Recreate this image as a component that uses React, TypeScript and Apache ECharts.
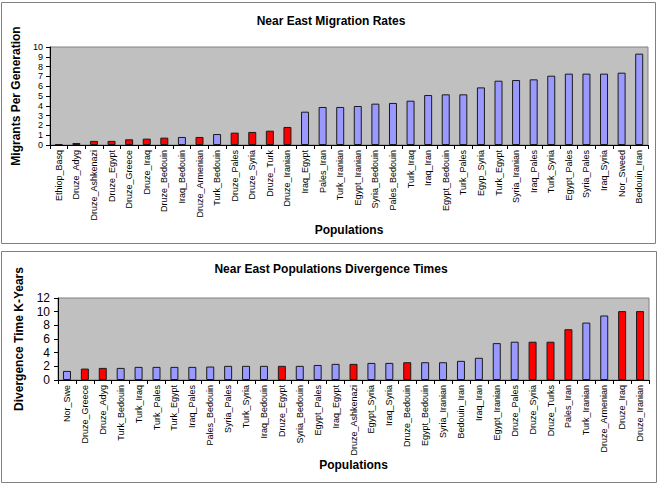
import React, { useEffect, useRef } from "react";
import * as echarts from "echarts";

const migrationCategories = [
  "Ethiop_Basq", "Druze_Adyg", "Druze_Ashkenazi", "Druze_Egypt", "Druze_Greece", "Druze_Iraq",
  "Druze_Bedouin", "Iraq_Bedouin", "Druze_Armenian", "Turk_Bedouin", "Druze_Pales", "Druze_Syria",
  "Druze_Turk", "Druze_Iranian", "Iraq_Egypt", "Pales_Iran", "Turk_Iranian", "Egypt_Iranian",
  "Syria_Bedouin", "Pales_Bedouin", "Turk_Iraq", "Iraq_Iran", "Egypt_Bedouin", "Turk_Pales",
  "Egyp_Syria", "Turk_Egypt", "Syria_Iranian", "Iraq_Pales", "Turk_Syria", "Egypt_Pales",
  "Syria_Pales", "Iraq_Syria", "Nor_Sweed", "Bedouin_Iran",
];
const migrationValues = [
  0.1, 0.2, 0.42, 0.42, 0.58, 0.65, 0.75, 0.82, 0.82, 1.12, 1.26, 1.33, 1.46, 1.84,
  3.4, 3.88, 3.88, 3.98, 4.22, 4.29, 4.52, 5.1, 5.17, 5.17, 5.88, 6.56, 6.63, 6.7,
  7.07, 7.28, 7.28, 7.28, 7.38, 9.32,
];
const migrationHighlighted = [
  "Ethiop_Basq", "Druze_Adyg", "Druze_Ashkenazi", "Druze_Egypt", "Druze_Greece", "Druze_Iraq",
  "Druze_Bedouin", "Druze_Armenian", "Druze_Pales", "Druze_Syria", "Druze_Turk", "Druze_Iranian",
];

const divergenceCategories = [
  "Nor_Swe", "Druze_Greece", "Druze_Adyg", "Turk_Bedouin", "Turk_Iraq", "Turk_Pales", "Turk_Egypt",
  "Iraq_Pales", "Pales_Bedouin", "Syria_Pales", "Turk_Syria", "Iraq_Bedouin", "Druze_Egypt",
  "Syria_Bedouin", "Egypt_Pales", "Iraq_Egypt", "Druze_Ashkenazi", "Egypt_Syria", "Iraq_Syria",
  "Druze_Bedouin", "Egypt_Bedouin", "Syria_Iranian", "Bedouin_Iran", "Iraq_Iran", "Egypt_Iranian",
  "Druze_Pales", "Druze_Syria", "Druze_Turks", "Pales_Iran", "Turk_Iranian", "Druze_Armenian",
  "Druze_Iraq", "Druze_Iranian",
];
const divergenceValues = [
  1.33, 1.67, 1.77, 1.77, 1.92, 1.92, 1.92, 1.92, 1.97, 2.07, 2.07, 2.07, 2.07, 2.07, 2.2,
  2.36, 2.36, 2.5, 2.5, 2.6, 2.6, 2.6, 2.8, 3.25, 5.4, 5.6, 5.6, 5.6, 7.43, 8.4, 9.44,
  10.08, 10.08,
];
const divergenceHighlighted = [
  "Druze_Greece", "Druze_Adyg", "Druze_Egypt", "Druze_Ashkenazi", "Druze_Bedouin",
  "Druze_Syria", "Druze_Turks", "Pales_Iran", "Druze_Iraq", "Druze_Iranian",
];

const FONT = "Liberation Sans, Arial, sans-serif";
const RED = "#FF0000";
const BLUE = "#9999FF";

function barData(cats: string[], vals: number[], hi: string[]) {
  return vals.map((v, i) => ({
    value: v,
    itemStyle: { color: hi.includes(cats[i]) ? RED : BLUE },
  }));
}

export default function App() {
  const ref = useRef<HTMLDivElement>(null);
  useEffect(() => {
    if (!ref.current) return;
    const chart = echarts.init(ref.current, null, { renderer: "svg" });
    const xAxisCommon = {
      type: "category" as const,
      axisLine: { lineStyle: { color: "#000", width: 1 } },
      axisTick: { show: true, length: 4, lineStyle: { color: "#000" } },
      axisLabel: { interval: 0, rotate: 90, fontSize: 9, color: "#000", fontFamily: FONT, margin: 5 },
      nameLocation: "middle" as const,
      nameTextStyle: { fontSize: 12, fontWeight: "bold" as const, color: "#000", fontFamily: FONT },
      splitLine: { show: false },
    };
    const yAxisCommon = {
      type: "value" as const,
      min: 0,
      axisLine: { show: true, lineStyle: { color: "#000", width: 1 } },
      axisTick: { show: true, length: 4, lineStyle: { color: "#000" } },
      splitLine: { show: false },
      nameLocation: "middle" as const,
      nameTextStyle: { fontSize: 12, fontWeight: "bold" as const, color: "#000", fontFamily: FONT },
    };
    chart.setOption({
      animation: false,
      backgroundColor: "#fff",
      title: [
        {
          text: "Near East Migration Rates",
          left: "center",
          top: 10,
          textStyle: { fontSize: 12, fontWeight: "bold", color: "#000", fontFamily: FONT },
        },
        {
          text: "Near East Populations Divergence Times",
          left: "center",
          top: 258,
          textStyle: { fontSize: 12, fontWeight: "bold", color: "#000", fontFamily: FONT },
        },
      ],
      graphic: [
        {
          type: "rect",
          shape: { x: 1.5, y: 2.5, width: 654, height: 241 },
          style: { fill: "none", stroke: "#808080", lineWidth: 1 },
          silent: true,
          z: -1,
        },
        {
          type: "rect",
          shape: { x: 1.5, y: 251.5, width: 655, height: 231 },
          style: { fill: "none", stroke: "#808080", lineWidth: 1 },
          silent: true,
          z: -1,
        },
      ],
      grid: [
        {
          left: 50, top: 47, width: 598, height: 98,
          show: true, backgroundColor: "#C0C0C0", borderColor: "#808080", borderWidth: 1,
        },
        {
          left: 58, top: 298, width: 591, height: 82,
          show: true, backgroundColor: "#C0C0C0", borderColor: "#808080", borderWidth: 1,
        },
      ],
      xAxis: [
        { ...xAxisCommon, gridIndex: 0, data: migrationCategories, name: "Populations", nameGap: 77 },
        { ...xAxisCommon, gridIndex: 1, data: divergenceCategories, name: "Populations", nameGap: 79 },
      ],
      yAxis: [
        {
          ...yAxisCommon, gridIndex: 0, max: 10, interval: 1,
          name: "Migrants Per Generation", nameGap: 26,
          axisLabel: { fontSize: 9, color: "#000", fontFamily: FONT, margin: 7 },
        },
        {
          ...yAxisCommon, gridIndex: 1, max: 12, interval: 2,
          name: "Divergence Time K-Years", nameGap: 33,
          axisLabel: { fontSize: 12, color: "#000", fontFamily: FONT, margin: 8 },
        },
      ],
      series: [
        {
          type: "bar",
          xAxisIndex: 0,
          yAxisIndex: 0,
          barWidth: 8,
          data: barData(migrationCategories, migrationValues, migrationHighlighted),
          itemStyle: { borderColor: "#1a1a1a", borderWidth: 1 },
        },
        {
          type: "bar",
          xAxisIndex: 1,
          yAxisIndex: 1,
          barWidth: 8,
          data: barData(divergenceCategories, divergenceValues, divergenceHighlighted),
          itemStyle: { borderColor: "#1a1a1a", borderWidth: 1 },
        },
      ],
    });
    return () => chart.dispose();
  }, []);
  return (
    <div
      ref={ref}
      style={{ position: "fixed", left: 0, top: 0, width: 662, height: 493, background: "#fff" }}
    />
  );
}
